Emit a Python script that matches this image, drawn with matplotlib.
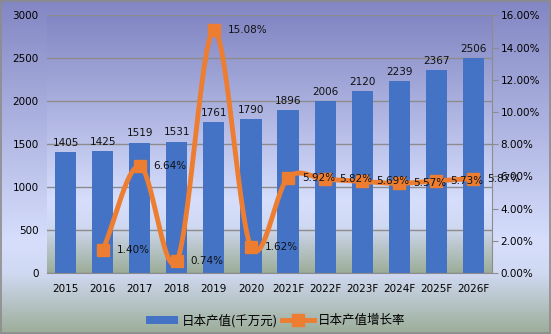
import numpy as np
import matplotlib
matplotlib.use('Agg')
import matplotlib.pyplot as plt
from matplotlib.colors import LinearSegmentedColormap
from matplotlib.lines import Line2D
from matplotlib.patches import Patch

plt.rcParams['font.family'] = ['DejaVu Sans', 'Noto Sans CJK SC']

years = ['2015', '2016', '2017', '2018', '2019', '2020',
         '2021F', '2022F', '2023F', '2024F', '2025F', '2026F']
output = [1405, 1425, 1519, 1531, 1761, 1790, 1896, 2006, 2120, 2239, 2367, 2506]
# growth rate starts in 2016
growth = [1.40, 6.64, 0.74, 15.08, 1.62, 5.92, 5.82, 5.69, 5.57, 5.73, 5.87]

bar_color = '#4472C4'
line_color = '#ED7D31'
grid_color = '#8c8c8c'

bg_cmap = LinearSegmentedColormap.from_list(
    'bg', [(0.0, '#8286c3'), (0.72, '#d6defc'), (0.82, '#d0d9f2'),
           (1.0, '#9cad98')])


def smooth(x, y, n=30, tension=0.5):
    """ Cardinal spline through points, like a smoothed Excel line """
    x = np.asarray(x, float)
    y = np.asarray(y, float)
    px = np.concatenate([[2 * x[0] - x[1]], x, [2 * x[-1] - x[-2]]])
    py = np.concatenate([[2 * y[0] - y[1]], y, [2 * y[-1] - y[-2]]])
    xs, ys = [], []
    t = np.linspace(0, 1, n)
    for i in range(1, len(px) - 2):
        m0x = tension * (px[i + 1] - px[i - 1])
        m1x = tension * (px[i + 2] - px[i])
        m0y = tension * (py[i + 1] - py[i - 1])
        m1y = tension * (py[i + 2] - py[i])
        h00 = 2 * t**3 - 3 * t**2 + 1
        h10 = t**3 - 2 * t**2 + t
        h01 = -2 * t**3 + 3 * t**2
        h11 = t**3 - t**2
        xs.append(h00 * px[i] + h10 * m0x + h01 * px[i + 1] + h11 * m1x)
        ys.append(h00 * py[i] + h10 * m0y + h01 * py[i + 1] + h11 * m1y)
    return np.concatenate(xs), np.concatenate(ys)


fig = plt.figure(figsize=(5.51, 3.34), dpi=100)

# figure background gradient
bg = fig.add_axes([0, 0, 1, 1], zorder=-10)
grad = np.linspace(0, 1, 256).reshape(-1, 1)
bg.imshow(grad, cmap=bg_cmap, aspect='auto', extent=[0, 1, 0, 1])
bg.set_axis_off()
fig.patches.append(plt.Rectangle((0.001, 0.002), 0.997, 0.995,
                                 transform=fig.transFigure, fill=False,
                                 edgecolor='#8c8c8c', linewidth=1.2))

ax = fig.add_axes([0.0853, 0.1826, 0.8077, 0.771])
ax.imshow(grad, cmap=bg_cmap, aspect='auto', extent=[0, 1, 0, 1],
          transform=ax.transAxes, zorder=0)

x = np.arange(len(years))
bars = ax.bar(x, output, width=0.57, color=bar_color, zorder=2)
for xi, v in zip(x, output):
    ax.annotate(str(v), (xi, v), xytext=(0, 3), textcoords='offset points',
                ha='center', va='bottom', fontsize=7.5, color='#111111',
                zorder=5)

ax.set_xlim(-0.5, len(years) - 0.5)
ax.set_ylim(0, 3000)
ax.set_yticks(range(0, 3001, 500))
ax.set_xticks(x)
ax.set_xticklabels(years)
ax.yaxis.grid(True, color=grid_color, linewidth=1.0)
ax.set_axisbelow(True)
for s in ['top', 'left', 'right']:
    ax.spines[s].set_visible(False)
ax.spines['bottom'].set_color(grid_color)
ax.tick_params(axis='y', length=0, pad=6, labelsize=7.5)
ax.tick_params(axis='x', length=0, pad=8, labelsize=7.5)

ax2 = ax.twinx()
ax2.set_ylim(0, 16)
ax2.set_yticks(range(0, 17, 2))
ax2.set_yticklabels(['{:.2f}%'.format(v) for v in range(0, 17, 2)])
for s in ['top', 'left', 'bottom']:
    ax2.spines[s].set_visible(False)
ax2.spines['right'].set_color(grid_color)
ax2.tick_params(axis='y', length=4, color=grid_color, pad=2, labelsize=7.5)

gx = x[1:]
sx, sy = smooth(gx, growth)
ax2.plot(sx, sy, color=line_color, linewidth=3.5, solid_capstyle='round',
         zorder=3)
ax2.plot(gx, growth, linestyle='', marker='s', markersize=9,
         color=line_color, zorder=4)
for xi, v in zip(gx, growth):
    ax2.annotate('{:.2f}%'.format(v), (xi, v), xytext=(10, 0),
                 textcoords='offset points', ha='left', va='center',
                 fontsize=7.5, color='#111111', zorder=5)

handles = [Patch(facecolor=bar_color, edgecolor='none'),
           Line2D([], [], color=line_color, linewidth=3.5, marker='s',
                  markersize=8)]
labels = ['日本产值(千万元)', '日本产值增长率']
fig.legend(handles, labels, loc='center', bbox_to_anchor=(0.5, 0.04),
           ncol=2, frameon=False, handlelength=2.6, handletextpad=0.3,
           columnspacing=0.3, prop={'family': ['Noto Sans CJK SC'],
                                    'size': 9})

fig.savefig('out.png', dpi=100)
